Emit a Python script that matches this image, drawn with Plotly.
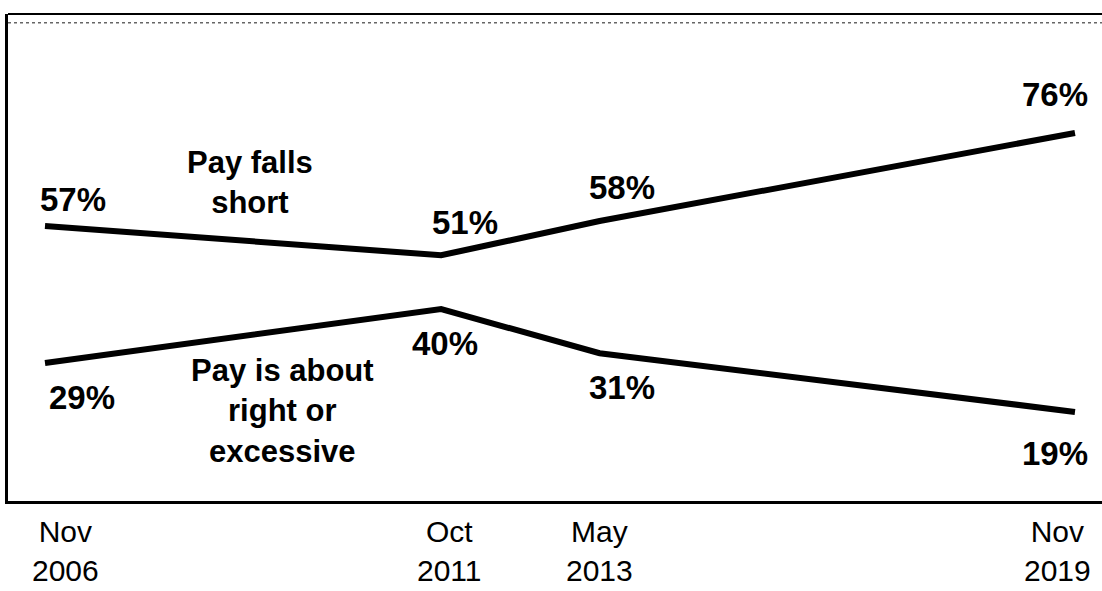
import plotly.graph_objects as go

# survey waves (x positioned by year, as in the original chart)
years = [2006, 2011, 2013, 2019]
wave_labels = ["Nov<br>2006", "Oct<br>2011", "May<br>2013", "Nov<br>2019"]

falls_short = [57, 51, 58, 76]
about_right = [29, 40, 31, 19]

FONT = "Arial, Liberation Sans, sans-serif"

fig = go.Figure()

for vals, name in [(falls_short, "Pay falls short"), (about_right, "Pay is about right or excessive")]:
    fig.add_trace(
        go.Scatter(
            x=years,
            y=vals,
            name=name,
            mode="lines",
            line=dict(color="black", width=6),
            hoverinfo="skip",
        )
    )

annotations = []

# value labels, nudged off the line like the original
short_shift = [(28, 26), (24, 33), (22, 34), (-20, 38)]
right_shift = [(37, -35), (4, -34), (22, -34), (-20, -42)]
for vals, shifts in [(falls_short, short_shift), (about_right, right_shift)]:
    for x, v, (xs, ys) in zip(years, vals, shifts):
        annotations.append(
            dict(
                x=x, y=v, text=f"<b>{v}%</b>", showarrow=False,
                xshift=xs, yshift=ys,
                font=dict(family=FONT, size=33, color="black"),
            )
        )

# series names
annotations.append(
    dict(x=2008.59, y=65.8, text="<b>Pay falls<br>short</b>", showarrow=False,
         font=dict(family=FONT, size=31, color="black"))
)
annotations.append(
    dict(x=2009.0, y=19.2, text="<b>Pay is about<br>right or<br>excessive</b>", showarrow=False,
         font=dict(family=FONT, size=31, color="black"))
)

# x-axis wave labels below the box
label_shift = [20, 8, 0, -17]
for x, lab, xs in zip(years, wave_labels, label_shift):
    annotations.append(
        dict(x=x, y=0, yref="paper", yanchor="top", yshift=-12, xshift=xs,
             text=lab, showarrow=False,
             font=dict(family=FONT, size=30, color="black"))
    )

fig.update_layout(
    width=1102,
    height=591,
    margin=dict(l=8, r=0, t=14, b=90),
    paper_bgcolor="white",
    plot_bgcolor="white",
    showlegend=False,
    annotations=annotations,
    shapes=[
        dict(type="line", xref="paper", yref="paper", x0=0, x1=1, y0=1, y1=1,
             line=dict(color="black", width=2)),
        dict(type="line", xref="paper", yref="paper", x0=0, x1=1, y0=0.982, y1=0.982,
             line=dict(color="rgba(0,0,0,0.6)", width=1.5, dash="dot")),
    ],
)
fig.update_xaxes(
    range=[2005.533, 2019.341],
    showgrid=False, zeroline=False, showticklabels=False, ticks="",
    showline=True, linecolor="black", linewidth=3,
)
fig.update_yaxes(
    range=[0.8, 100.3],
    showgrid=False, zeroline=False, showticklabels=False, ticks="",
    showline=True, linecolor="black", linewidth=3,
)

# drop the browser's default page margin so the figure fills the window
fig.write_html(
    "out.html",
    config={"displayModeBar": False},
    post_script="document.body.style.margin = '0';",
)
